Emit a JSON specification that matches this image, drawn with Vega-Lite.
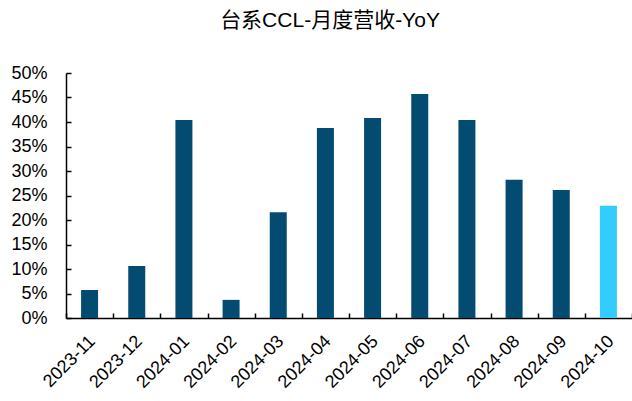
{
  "$schema": "https://vega.github.io/schema/vega-lite/v6.json",
  "width": 566,
  "height": 245,
  "autosize": {"type": "none"},
  "padding": {"left": 66, "top": 73, "right": 0, "bottom": 83},
  "background": "white",
  "title": {
    "text": "台系CCL-月度营收-YoY",
    "fontSize": 21,
    "font": "Liberation Sans, Noto Sans CJK SC",
    "fontWeight": "normal",
    "color": "#000000",
    "offset": 33,
    "dx": -19
  },
  "data": {
    "values": [
      {"month": "2023-11", "yoy": 0.057, "latest": "n"},
      {"month": "2023-12", "yoy": 0.106, "latest": "n"},
      {"month": "2024-01", "yoy": 0.404, "latest": "n"},
      {"month": "2024-02", "yoy": 0.037, "latest": "n"},
      {"month": "2024-03", "yoy": 0.216, "latest": "n"},
      {"month": "2024-04", "yoy": 0.388, "latest": "n"},
      {"month": "2024-05", "yoy": 0.408, "latest": "n"},
      {"month": "2024-06", "yoy": 0.457, "latest": "n"},
      {"month": "2024-07", "yoy": 0.404, "latest": "n"},
      {"month": "2024-08", "yoy": 0.282, "latest": "n"},
      {"month": "2024-09", "yoy": 0.261, "latest": "n"},
      {"month": "2024-10", "yoy": 0.229, "latest": "y"}
    ]
  },
  "mark": {"type": "bar", "size": 17},
  "encoding": {
    "x": {
      "field": "month",
      "type": "ordinal",
      "sort": null,
      "scale": {"paddingInner": 0, "paddingOuter": 0},
      "axis": {
        "title": null,
        "grid": false,
        "tickBand": "extent",
        "tickSize": -5,
        "tickWidth": 1.5,
        "tickColor": "#000000",
        "domainColor": "#000000",
        "domainWidth": 1.5,
        "labelAngle": -45,
        "labelFontSize": 18,
        "labelFont": "Liberation Sans",
        "labelColor": "#000000",
        "labelPadding": 19,
        "labelOffset": -4
      }
    },
    "y": {
      "field": "yoy",
      "type": "quantitative",
      "scale": {"domain": [0, 0.5], "nice": false},
      "axis": {
        "title": null,
        "grid": false,
        "values": [0, 0.05, 0.1, 0.15, 0.2, 0.25, 0.3, 0.35, 0.4, 0.45, 0.5],
        "format": ".0%",
        "tickSize": -5,
        "tickWidth": 1.5,
        "tickColor": "#000000",
        "domainColor": "#000000",
        "domainWidth": 1.5,
        "labelFontSize": 18,
        "labelFont": "Liberation Sans",
        "labelColor": "#000000",
        "labelPadding": 24
      }
    },
    "color": {
      "field": "latest",
      "type": "nominal",
      "scale": {"domain": ["n", "y"], "range": ["#034B71", "#33CCFF"]},
      "legend": null
    }
  },
  "config": {"view": {"stroke": null}}
}
